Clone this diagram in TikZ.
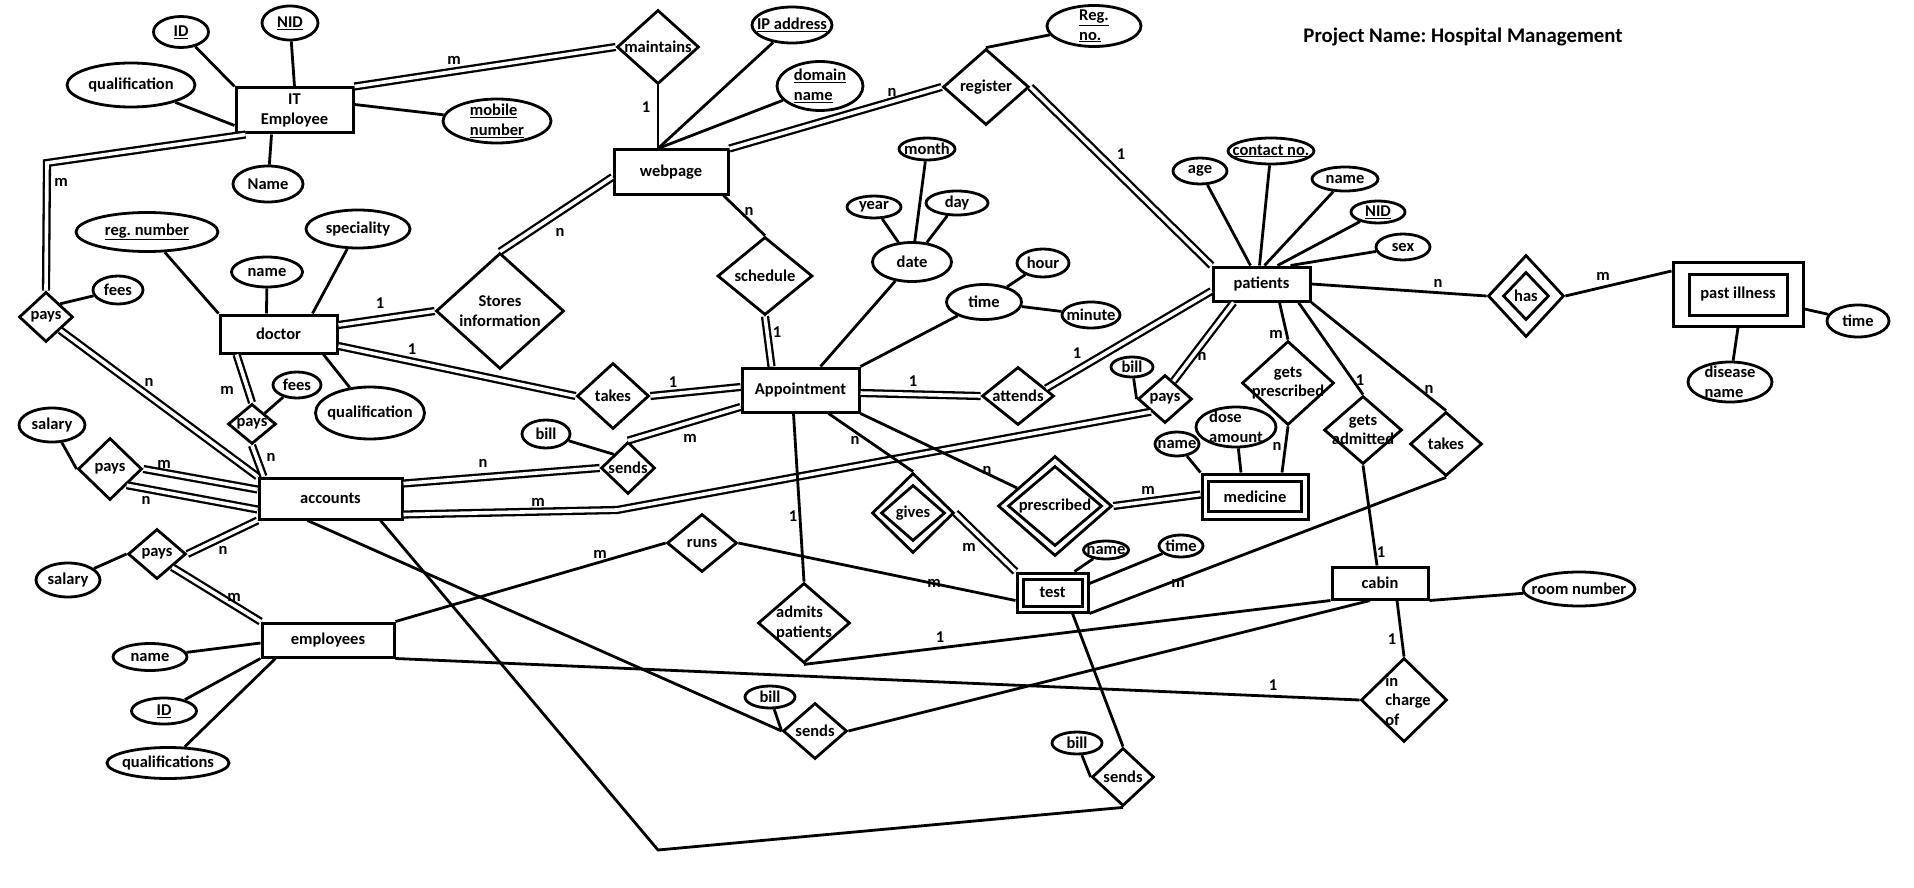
\documentclass[tikz,border=0pt]{standalone}
\usepackage{fontspec}
\setmainfont{Carlito}
\usetikzlibrary{shapes.geometric,calc}
\frenchspacing
\begin{document}
\begin{tikzpicture}[x=1pt,y=-1pt,
  font=\fontsize{16.5}{19.5}\selectfont\bfseries,
  every label/.style={align=center,inner sep=0pt},
  ent/.style={draw,rectangle,line width=3pt,inner sep=0pt,align=center},
  att/.style={draw,ellipse,line width=2.8pt,inner sep=0pt},
  rel/.style={draw,diamond,line width=2.8pt,inner sep=0pt},
  ln/.style={line width=2.8pt},
  dbl/.style={double,double distance=3.6pt,line width=2.3pt},
  card/.style={inner sep=0pt}
]
\fill[white] (0,0) rectangle (1914,888);
\useasboundingbox (0,0) rectangle (1914,888);

\node[font=\fontsize{20.8}{24}\selectfont\bfseries] (title) at (1463,37) {Project Name:\ Hospital Management};

% entities
\node[ent,minimum width=117,minimum height=45] (itemp) at (294.5,110.5) {IT\\Employee};
\node[ent,minimum width=114,minimum height=44] (webpage) at (671,172) {webpage};
\node[ent,minimum width=117,minimum height=38] (doctor) at (278.5,334) {doctor};
\node[ent,minimum width=143,minimum height=41] (accounts) at (330.5,498.5) {accounts};
\node[ent,minimum width=132,minimum height=34] (employees) at (328,640) {employees};
\node[ent,minimum width=117,minimum height=44] (appt) at (800.5,390) {Appointment};
\node[ent,minimum width=97,minimum height=34] (patients) at (1261.5,284) {patients};
\node[ent,minimum width=96,minimum height=32] (cabin) at (1380,583) {cabin};
\node[ent,minimum width=106,minimum height=45] (medO) at (1255,496.5) {};
\node[ent,minimum width=93,minimum height=30] (medI) at (1255,496.5) {medicine};
\node[ent,minimum width=71,minimum height=39] (testO) at (1052.5,592.5) {};
\node[ent,minimum width=59,minimum height=27] (testI) at (1052.5,592.5) {test};
\node[ent,minimum width=130,minimum height=64] (pastO) at (1738,294) {};
\node[ent,minimum width=98,minimum height=41] (pastI) at (1738,294.5) {past illness};

% attributes
\node[att,minimum width=55,minimum height=31,label=center:\underline{ID}] (a_id) at (181,32) {};
\node[att,minimum width=56,minimum height=34,label=center:\underline{NID}] (a_nid) at (290,23) {};
\node[att,minimum width=128,minimum height=44,label=center:qualification] (a_qual) at (131,85) {};
\node[att,minimum width=108,minimum height=44,label={[align=left]center:{\underline{mobile}\\\underline{number}}}] (a_mobile) at (497,121) {};
\node[att,minimum width=70,minimum height=36,label=center:Name] (a_nameit) at (268,184) {};
\node[att,minimum width=80,minimum height=36,label=center:\underline{IP address}] (a_ip) at (792,25) {};
\node[att,minimum width=86,minimum height=49,label={[align=left]center:{\underline{domain}\\\underline{name}}}] (a_domain) at (820,86) {};
\node[att,minimum width=94,minimum height=41,label={[align=left]center:{\underline{Reg.}\\\underline{no.}}}] (a_regno) at (1094,26) {};
\node[att,minimum width=142,minimum height=39,label=center:\underline{reg. number}] (a_regnum) at (147,232) {};
\node[att,minimum width=104,minimum height=38,label=center:speciality] (a_spec) at (358,229) {};
\node[att,minimum width=71,minimum height=30,label=center:name] (a_dname) at (267,272) {};
\node[att,minimum width=50,minimum height=28,label=center:fees] (a_fees1) at (118,290) {};
\node[att,minimum width=48,minimum height=26,label=center:fees] (a_fees2) at (297,385) {};
\node[att,minimum width=109,minimum height=52,label=center:qualification] (a_dqual) at (370,413) {};
\node[att,minimum width=66,minimum height=34,label=center:salary] (a_sal1) at (52,425) {};
\node[att,minimum width=64,minimum height=34,label=center:salary] (a_sal2) at (68,580) {};
\node[att,minimum width=74,minimum height=27,label=center:name] (a_ename) at (150,657) {};
\node[att,minimum width=65,minimum height=26,label=center:\underline{ID}] (a_eid) at (164,711) {};
\node[att,minimum width=122,minimum height=31,label=center:qualifications] (a_equal) at (168,763) {};
\node[att,minimum width=56,minimum height=22,label=center:month] (a_month) at (927,149) {};
\node[att,minimum width=54,minimum height=22,label=center:year] (a_year) at (874,207) {};
\node[att,minimum width=62,minimum height=24,label=center:day] (a_day) at (957,203) {};
\node[att,minimum width=79,minimum height=39,label=center:date] (a_date) at (912,262) {};
\node[att,minimum width=52,minimum height=28,label=center:hour] (a_hour) at (1043,263) {};
\node[att,minimum width=75,minimum height=35,label=center:time] (a_time) at (984,302) {};
\node[att,minimum width=58,minimum height=26,label=center:minute] (a_minute) at (1091,315) {};
\node[att,minimum width=54,minimum height=26,label=center:age] (a_age) at (1200,171) {};
\node[att,minimum width=86,minimum height=26,label=center:\underline{contact no.}] (a_contact) at (1271,151) {};
\node[att,minimum width=66,minimum height=24,label=center:name] (a_pname) at (1345,179) {};
\node[att,minimum width=54,minimum height=22,label=center:\underline{NID}] (a_pnid) at (1378,212) {};
\node[att,minimum width=54,minimum height=26,label=center:sex] (a_sex) at (1403,247) {};
\node[att,minimum width=62,minimum height=32,label=center:time] (a_ptime) at (1858,321) {};
\node[att,minimum width=84,minimum height=40,label={[align=left]center:{disease\\name}}] (a_disease) at (1730,382) {};
\node[att,minimum width=48,minimum height=28,label=center:bill] (a_bill1) at (546,434) {};
\node[att,minimum width=42,minimum height=20,label=center:bill] (a_bill2) at (1132,367) {};
\node[att,minimum width=44,minimum height=24,label=center:name] (a_medname) at (1177,444) {};
\node[att,minimum width=80,minimum height=40,label={[align=left]center:{dose\\amount}}] (a_dose) at (1236,427) {};
\node[att,minimum width=45,minimum height=18,label=center:name] (a_testname) at (1106,550) {};
\node[att,minimum width=44,minimum height=22,label=center:time] (a_testtime) at (1181,546) {};
\node[att,minimum width=50,minimum height=22,label=center:bill] (a_bill3) at (770,697) {};
\node[att,minimum width=50,minimum height=22,label=center:bill] (a_bill4) at (1077,743) {};
\node[att,minimum width=112,minimum height=34,label=center:room number] (a_room) at (1579,589) {};

% relationships
\node[rel,minimum width=82,minimum height=74,label=center:maintains] (r_maint) at (658,47) {};
\node[rel,minimum width=86,minimum height=76,label=center:register] (r_register) at (986,87) {};
\node[rel,minimum width=128,minimum height=116,label={center:{Stores\\information}}] (r_stores) at (500,311) {};
\node[rel,minimum width=95,minimum height=78,label=center:schedule] (r_sched) at (765,276) {};
\node[rel,minimum width=72,minimum height=66,label=center:takes] (r_takes1) at (613,396) {};
\node[rel,minimum width=54,minimum height=50,label=center:pays] (r_paysit) at (46,317) {};
\node[rel,minimum width=48,minimum height=40,label=center:pays] (r_paysdoc) at (252,424) {};
\node[rel,minimum width=64,minimum height=62,label=center:pays] (r_payssal) at (110,469) {};
\node[rel,minimum width=58,minimum height=50,label=center:pays] (r_paysemp) at (157,554) {};
\node[rel,minimum width=54,minimum height=52,label=center:sends] (r_sends1) at (628,468) {};
\node[rel,minimum width=72,minimum height=58,label=center:attends] (r_attends) at (1018,396) {};
\node[rel,minimum width=54,minimum height=48,label=center:pays] (r_payspat) at (1165,399) {};
\node[rel,minimum width=92,minimum height=84,label={center:{gets\\prescribed}}] (r_getspres) at (1288,383) {};
\node[rel,minimum width=78,minimum height=68,label={center:{gets\\admitted}}] (r_getsadm) at (1363,430) {};
\node[rel,minimum width=72,minimum height=64,label=center:takes] (r_takes2) at (1446,444) {};
\node[rel,minimum width=76,minimum height=82] (r_hasO) at (1526,296) {};
\node[rel,minimum width=46,minimum height=48,label=center:has] (r_hasI) at (1526,296) {};
\node[rel,minimum width=114,minimum height=100] (r_presO) at (1055,506) {};
\node[rel,minimum width=94,minimum height=80,label=center:prescribed] (r_presI) at (1055,506) {};
\node[rel,minimum width=82,minimum height=80] (r_givesO) at (913,513) {};
\node[rel,minimum width=64,minimum height=56,label=center:gives] (r_givesI) at (913,513) {};
\node[rel,minimum width=70,minimum height=58,label=center:runs] (r_runs) at (702,543) {};
\node[rel,minimum width=92,minimum height=80,label={[align=left]center:{admits\\patients}}] (r_admits) at (804,623) {};
\node[rel,minimum width=64,minimum height=56,label=center:sends] (r_sends2) at (815,731) {};
\node[rel,minimum width=62,minimum height=58,label=center:sends] (r_sends3) at (1123,777) {};
\node[rel,minimum width=86,minimum height=84,label={[align=left,xshift=4pt]center:{in\\charge\\of}}] (r_incharge) at (1404,700) {};

% bend points
\coordinate (bendIT) at (47,163);
\coordinate (bendPA) at (617,510);
\coordinate (bendAS) at (658,850);
\coordinate (wtop) at ([xshift=-13pt]webpage.north);

% double lines
\draw[dbl] (itemp.north east) -- (r_maint.west);
\draw[dbl] ([xshift=11pt]itemp.south west) -- (bendIT) -- (r_paysit.north);
\draw[dbl] (webpage.north east) -- (r_register.west);
\draw[dbl] (r_register.east) -- (patients.north west);
\draw[dbl] ([yshift=-5pt]webpage.west) -- (r_stores.north);
\draw[dbl] (r_sched.south) -- ([xshift=-29pt]appt.north);
\draw[dbl] ([yshift=9pt]doctor.east) -- (r_stores.west);
\draw[dbl] ([yshift=-12pt]doctor.east) -- (r_takes1.west);
\draw[dbl] (r_takes1.east) -- ([yshift=3pt]appt.west);
\draw[dbl] ([xshift=-42pt]doctor.south) -- (r_paysdoc.north);
\draw[dbl] (r_paysdoc.south) -- ([xshift=6pt]accounts.north west);
\draw[dbl] (r_paysit.south east) -- (accounts.north west);
\draw[dbl] (r_payssal.east) -- ([yshift=9pt]accounts.west);
\draw[dbl] (r_payssal.south east) -- ([yshift=-11pt]accounts.west);
\draw[dbl] (accounts.south west) -- (r_paysemp.east);
\draw[dbl] (r_paysemp.south east) -- (employees.north west);
\draw[dbl] (r_sends1.west) -- ([yshift=15pt]accounts.east);
\draw[dbl] ([yshift=-17pt]appt.west) -- (r_sends1.north);
\draw[dbl] (r_payspat.south west) -- (bendPA) -- ([yshift=-16pt]accounts.east);
\draw[dbl] ([yshift=-3pt]appt.east) -- (r_attends.west);
\draw[dbl] ($(r_attends.east)!.25!(r_attends.north)$) -- ([yshift=-7pt]patients.west);
\draw[dbl] ([xshift=-28pt]patients.south) -- ($(r_payspat.north)!.3!(r_payspat.east)$);
\draw[dbl] (r_presO.east) -- ([yshift=2pt]medO.west);
\draw[dbl] (r_givesO.east) -- (testO.north west);

% attribute lines
\draw[ln] (a_id) -- (itemp.north west);
\draw[ln] (a_nid) -- (itemp.north);
\draw[ln] (a_qual) -- ([yshift=-15pt]itemp.west);
\draw[ln] (a_nameit) -- ([xshift=-23pt]itemp.south);
\draw[ln] ([yshift=6pt]itemp.east) -- (a_mobile);
\draw[ln] (a_ip) -- (wtop);
\draw[ln] (a_domain) -- (wtop);
\draw[ln] (r_register.north) -- (a_regno);
\draw[ln] (a_regnum) -- (doctor.north west);
\draw[ln] (a_dname) -- ([xshift=-12pt]doctor.north);
\draw[ln] (a_spec) -- ([xshift=34pt]doctor.north);
\draw[ln] ([xshift=45pt]doctor.south) -- (a_dqual);
\draw[ln] (a_fees1) -- (r_paysit.north east);
\draw[ln] (a_fees2) -- (r_paysdoc.north east);
\draw[ln] (a_sal1) -- (r_payssal.west);
\draw[ln] (a_sal2) -- (r_paysemp.west);
\draw[ln] (a_ename) -- ([yshift=-3pt]employees.west);
\draw[ln] (a_eid) -- (employees.south west);
\draw[ln] (a_equal) -- ([xshift=15pt]employees.south west);
\draw[ln] (a_year) -- (a_date);
\draw[ln] (a_month) -- (a_date);
\draw[ln] (a_day) -- (a_date);
\draw[ln] (a_date) -- ([xshift=20pt]appt.north);
\draw[ln] (a_time) -- (appt.north east);
\draw[ln] (a_time) -- (a_hour);
\draw[ln] (a_time) -- (a_minute);
\draw[ln] (a_age) -- ([xshift=-11pt]patients.north);
\draw[ln] (a_contact) -- ([xshift=-2pt]patients.north);
\draw[ln] (a_pname) -- ([xshift=3pt]patients.north);
\draw[ln] (a_pnid) -- ([xshift=16pt]patients.north);
\draw[ln] (a_sex) -- ([xshift=29pt]patients.north);
\draw[ln] (a_bill2) -- (r_payspat.west);
\draw[ln] (a_bill1) -- (r_sends1.north west);
\draw[ln] (a_medname) -- (medO.north west);
\draw[ln] (a_dose) -- ([xshift=-14pt]medO.north);
\draw[ln] (a_testname) -- ([xshift=22pt]testO.north);
\draw[ln] (a_testtime) -- ([yshift=9pt]testO.east);
\draw[ln] ([yshift=-15pt]pastO.east) -- (a_ptime);
\draw[ln] (a_disease) -- (pastO.south);
\draw[ln] (cabin.south east) -- (a_room);
\draw[ln] (a_bill3) -- (r_sends2.west);
\draw[ln] (a_bill4) -- (r_sends3.west);

% relationship lines
\draw[ln] (r_maint.south) -- (wtop);
\draw[ln] ([xshift=-6pt]webpage.south east) -- (r_sched.north);
\draw[ln] ([xshift=-7pt]appt.south) -- (r_admits.north);
\draw[ln] ([xshift=28pt]appt.south) -- (r_givesO.north);
\draw[ln] (appt.south east) -- (r_presO);
\draw[ln] (employees.north east) -- (r_runs.west);
\draw[ln] (r_runs.east) -- ([yshift=-8pt]testO.west);
\draw[ln] (r_takes2.south) -- (testO.south east);
\draw[ln] (patients.south east) -- (r_takes2.north);
\draw[ln] (r_admits.south) -- (cabin.south west);
\draw[ln] (r_sends2.east) -- ([xshift=-10pt]cabin.south);
\draw[ln] (employees.south east) -- (r_incharge.west);
\draw[ln] ([xshift=17pt]cabin.south) -- (r_incharge.north);
\draw[ln] (r_getsadm.south) -- ([xshift=-3pt]cabin.north);
\draw[ln] ([xshift=37pt]patients.south) -- (r_getsadm.north);
\draw[ln] ([xshift=18pt]patients.south) -- (r_getspres.north);
\draw[ln] (r_getspres.south) -- ([xshift=27pt]medO.north);
\draw[ln] (patients.east) -- (r_hasO.west);
\draw[ln] (r_hasO.east) -- ([yshift=23pt]pastO.west);
\draw[ln] ([xshift=-23pt]accounts.south) -- (r_sends2.west);
\draw[ln] ([xshift=50pt]accounts.south) -- (bendAS) -- (r_sends3.south);
\draw[ln] ([xshift=20pt]testO.south) -- (r_sends3.north);

% cardinalities
\node[card] (k1) at (454,60) {m};
\node[card] (k2) at (61,182) {m};
\node[card] (k3) at (646,107) {1};
\node[card] (k4) at (892,92) {n};
\node[card] (k5) at (1121,154) {1};
\node[card] (k6) at (560,232) {n};
\node[card] (k7) at (749,211) {n};
\node[card] (k8) at (777,332) {1};
\node[card] (k9) at (380,303) {1};
\node[card] (k10) at (412,349) {1};
\node[card] (k11) at (673,382) {1};
\node[card] (k12) at (149,382) {n};
\node[card] (k13) at (227,390) {m};
\node[card] (k14) at (271,457) {n};
\node[card] (k15) at (164,464) {m};
\node[card] (k16) at (146,500) {n};
\node[card] (k17) at (223,550) {n};
\node[card] (k18) at (234,597) {m};
\node[card] (k19) at (483,463) {n};
\node[card] (k20) at (690,438) {m};
\node[card] (k21) at (538,502) {m};
\node[card] (k22) at (913,381) {1};
\node[card] (k23) at (1077,353) {1};
\node[card] (k24) at (1202,356) {n};
\node[card] (k25) at (987,470) {n};
\node[card] (k26) at (1148,490) {m};
\node[card] (k27) at (1276,334) {m};
\node[card] (k28) at (1277,446) {n};
\node[card] (k29) at (1360,380) {1};
\node[card] (k30) at (1381,552) {1};
\node[card] (k31) at (1429,389) {n};
\node[card] (k32) at (1178,583) {m};
\node[card] (k33) at (1438,283) {n};
\node[card] (k34) at (1603,276) {m};
\node[card] (k35) at (793,516) {1};
\node[card] (k36) at (855,440) {n};
\node[card] (k37) at (969,547) {m};
\node[card] (k38) at (600,554) {m};
\node[card] (k39) at (934,583) {m};
\node[card] (k40) at (940,637) {1};
\node[card] (k41) at (1392,639) {1};
\node[card] (k42) at (1273,685) {1};
\end{tikzpicture}
\end{document}
